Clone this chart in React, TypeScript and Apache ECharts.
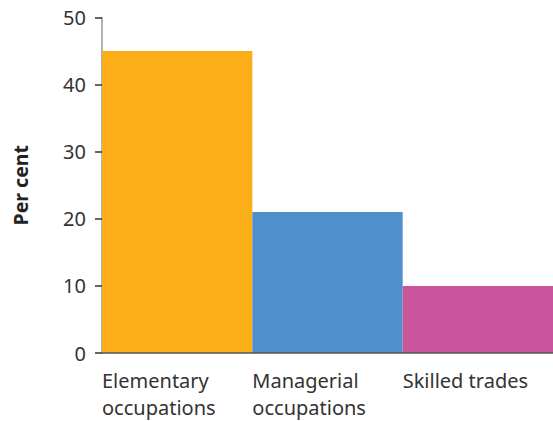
import React, { useEffect, useRef } from "react";
import * as echarts from "echarts";

const categories = ["Elementary occupations", "Managerial occupations", "Skilled trades"];
const categoryLabels = ["Elementary\noccupations", "Managerial\noccupations", "Skilled trades", ""];
const values = [45, 21, 10];
const barColors = ["#FBAE18", "#4F8FCC", "#C9559C"];
const yTicks = { min: 0, max: 50, interval: 10 };
const yAxisTitle = "Per cent";

export default function App() {
  const ref = useRef<HTMLDivElement>(null);
  useEffect(() => {
    if (!ref.current) return;
    const chart = echarts.init(ref.current, undefined, { renderer: "svg" });
    const font = "'Noto Sans', sans-serif";
    chart.setOption({
      animation: false,
      textStyle: { fontFamily: font },
      grid: {
        left: 102,
        right: 0,
        top: 17.5,
        bottom: 68,
        containLabel: false,
        outerBoundsMode: "none",
      },
      xAxis: [
        {
          type: "category",
          data: categories,
          boundaryGap: true,
          axisTick: { show: false },
          axisLabel: { show: false },
          axisLine: { show: true, lineStyle: { color: "#555", width: 1.5 } },
          splitLine: { show: false },
          z: 10,
        },
        {
          type: "category",
          position: "bottom",
          data: categoryLabels,
          boundaryGap: false,
          axisTick: { show: false },
          axisLine: { show: false },
          splitLine: { show: false },
          axisLabel: {
            interval: 0,
            align: "left",
            margin: 14,
            fontSize: 20,
            lineHeight: 27,
            color: "#333",
            fontFamily: font,
            showMaxLabel: true,
            hideOverlap: false,
          },
        },
      ],
      yAxis: {
        type: "value",
        min: yTicks.min,
        max: yTicks.max,
        interval: yTicks.interval,
        name: yAxisTitle,
        nameLocation: "middle",
        nameGap: 72,
        nameTextStyle: { fontSize: 19.5, fontWeight: "bold", color: "#222", fontFamily: font },
        axisLine: { show: true, lineStyle: { color: "#999", width: 1.5 } },
        axisTick: { show: true, length: 7, lineStyle: { color: "#333", width: 1.5 } },
        axisLabel: { fontSize: 20, color: "#333", margin: 16, fontFamily: font },
        splitLine: { show: false },
      },
      series: [
        {
          type: "bar",
          xAxisIndex: 0,
          barWidth: "100%",
          barCategoryGap: 0,
          data: values.map((v, i) => ({ value: v, itemStyle: { color: barColors[i] } })),
        },
      ],
    });
    return () => chart.dispose();
  }, []);
  return (
    <div
      ref={ref}
      style={{ position: "fixed", left: 0, top: 0, width: 553, height: 421, background: "#fff" }}
    />
  );
}
